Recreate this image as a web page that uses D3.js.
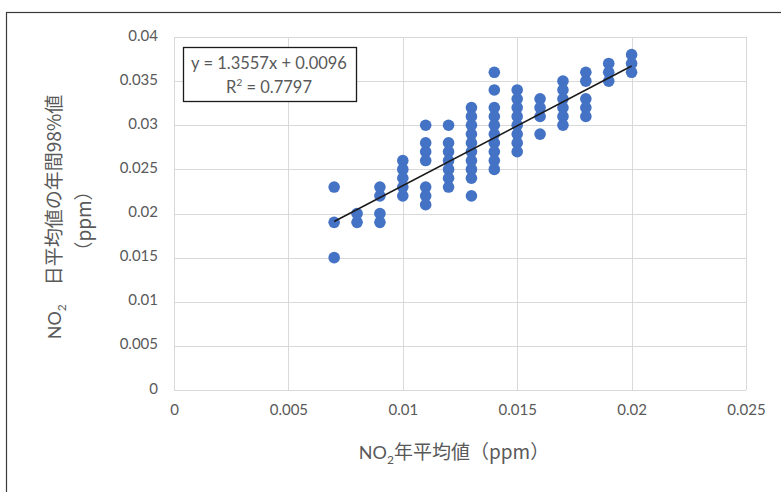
<!DOCTYPE html>
<html lang="ja">
<head>
  <meta charset="utf-8" />
  <title>NO2 scatter</title>
  <script src="https://d3js.org/d3.v7.min.js"></script>
  <style>
    body { margin: 0; background: #fff; }
    text { font-family: Lato, "Noto Sans CJK JP", sans-serif; fill: #595959; }
    .grid line { stroke: #d9d9d9; stroke-width: 1; }
    .jp { font-family: "Noto Sans CJK JP", Lato, sans-serif; }
    .lat { font-family: Lato, sans-serif; }
  </style>
</head>
<body>
<svg id="chart" width="781" height="492"></svg>
<script>
// annual mean NO2 (x) and the daily-mean 98% values seen at each x
var xValues = [0.007, 0.008, 0.009, 0.010, 0.011, 0.012, 0.013, 0.014, 0.015, 0.016, 0.017, 0.018, 0.019, 0.020];
var yValues = [
  [0.023, 0.019, 0.015],
  [0.020, 0.019],
  [0.023, 0.022, 0.020, 0.019],
  [0.026, 0.025, 0.024, 0.023, 0.022],
  [0.030, 0.028, 0.027, 0.026, 0.023, 0.022, 0.021],
  [0.030, 0.028, 0.027, 0.026, 0.025, 0.024, 0.023],
  [0.032, 0.031, 0.030, 0.029, 0.028, 0.027, 0.026, 0.025, 0.024, 0.022],
  [0.036, 0.034, 0.032, 0.031, 0.030, 0.029, 0.028, 0.027, 0.026, 0.025],
  [0.034, 0.033, 0.032, 0.031, 0.030, 0.029, 0.028, 0.027],
  [0.033, 0.032, 0.031, 0.029],
  [0.035, 0.034, 0.033, 0.032, 0.031, 0.030],
  [0.036, 0.035, 0.033, 0.032, 0.031],
  [0.037, 0.036, 0.035],
  [0.038, 0.037, 0.036]
];
var xTicks = [0, 0.005, 0.01, 0.015, 0.02, 0.025];
var yTicks = [0, 0.005, 0.01, 0.015, 0.02, 0.025, 0.03, 0.035, 0.04];
var slope = 1.3557, intercept = 0.0096;
var eqLabel = "y = 1.3557x + 0.0096";
var r2Label = "0.7797";

var points = [];
xValues.forEach(function(x, i) {
  yValues[i].forEach(function(y) { points.push({x: x, y: y}); });
});

var svg = d3.select("#chart");
var pLeft = 174, pRight = 746, pTop = 37, pBottom = 390;

var x = d3.scaleLinear().domain([0, 0.025]).range([pLeft, pRight]);
var y = d3.scaleLinear().domain([0, 0.04]).range([pBottom, pTop]);

// chart frame
svg.append("rect")
  .attr("x", 6.5).attr("y", 12.5)
  .attr("width", 800).attr("height", 500)
  .attr("fill", "#fff").attr("stroke", "#3a3a3a").attr("stroke-width", 1.2);

var grid = svg.append("g").attr("class", "grid");
grid.selectAll(".h").data(yTicks).enter().append("line")
  .attr("x1", pLeft).attr("x2", pRight)
  .attr("y1", function(d) { return Math.round(y(d)) + 0.5; })
  .attr("y2", function(d) { return Math.round(y(d)) + 0.5; });
grid.selectAll(".v").data(xTicks).enter().append("line")
  .attr("y1", pTop).attr("y2", pBottom)
  .attr("x1", function(d) { return Math.round(x(d)) + 0.5; })
  .attr("x2", function(d) { return Math.round(x(d)) + 0.5; });

var fmt = function(d) { return d === 0 ? "0" : String(+d.toFixed(3)); };

var yAxis = svg.append("g")
  .attr("transform", "translate(" + (pLeft - 16) + ",0)")
  .call(d3.axisLeft(y).tickValues(yTicks).tickFormat(fmt).tickSize(0).tickPadding(0));
yAxis.select(".domain").remove();
yAxis.selectAll("text").attr("font-size", 15).attr("font-family", "Lato, sans-serif")
  .attr("fill", "#595959").attr("dy", "0.2em");

var xAxis = svg.append("g")
  .attr("transform", "translate(0," + (pBottom + 14) + ")")
  .call(d3.axisBottom(x).tickValues(xTicks).tickFormat(fmt).tickSize(0).tickPadding(0));
xAxis.select(".domain").remove();
xAxis.selectAll("text").attr("font-size", 15).attr("font-family", "Lato, sans-serif")
  .attr("fill", "#595959").attr("dy", "0.71em");

// points
svg.append("g").selectAll("circle").data(points).enter().append("circle")
  .attr("cx", function(d) { return x(d.x); })
  .attr("cy", function(d) { return y(d.y); })
  .attr("r", 5.8)
  .attr("fill", "#4472c4");

// linear trendline over the data range
var x0 = d3.min(xValues), x1 = d3.max(xValues);
svg.append("line")
  .attr("x1", x(x0)).attr("y1", y(slope * x0 + intercept))
  .attr("x2", x(x1)).attr("y2", y(slope * x1 + intercept))
  .attr("stroke", "#1a1a1a").attr("stroke-width", 1.6);

// equation label
var eq = svg.append("g");
eq.append("rect")
  .attr("x", 183.5).attr("y", 47.5).attr("width", 173).attr("height", 54)
  .attr("fill", "#fff").attr("stroke", "#1a1a1a").attr("stroke-width", 1.3);
eq.append("text").attr("x", 269).attr("y", 69).attr("text-anchor", "middle")
  .attr("font-size", 16.5).text(eqLabel);
var r2 = eq.append("text").attr("x", 269).attr("y", 93).attr("text-anchor", "middle")
  .attr("font-size", 16.5);
r2.append("tspan").text("R");
r2.append("tspan").attr("font-size", 10).attr("dy", -7).text("2");
r2.append("tspan").attr("dy", 7).text(" = " + r2Label);

// x axis title
var xt = svg.append("text").attr("class", "jp")
  .attr("x", 454).attr("y", 459).attr("text-anchor", "middle").attr("font-size", 19);
xt.append("tspan").attr("class", "lat").attr("font-size", 18).text("NO");
xt.append("tspan").attr("class", "lat").attr("font-size", 12).attr("dy", 5).text("2");
xt.append("tspan").attr("dy", -5).text("年平均値（ppm）");

// y axis title, two rotated lines
var yt = svg.append("text").attr("class", "jp")
  .attr("transform", "translate(61,217) rotate(-90)")
  .attr("text-anchor", "middle").attr("font-size", 19);
yt.append("tspan").attr("class", "lat").attr("font-size", 18).text("NO");
yt.append("tspan").attr("class", "lat").attr("font-size", 12).attr("dy", 5).text("2");
yt.append("tspan").attr("dy", -5).text("　日平均値の年間98%値");
svg.append("text").attr("class", "jp")
  .attr("transform", "translate(91,221) rotate(-90)")
  .attr("text-anchor", "middle").attr("font-size", 19)
  .text("（ppm）");
</script>
</body>
</html>
